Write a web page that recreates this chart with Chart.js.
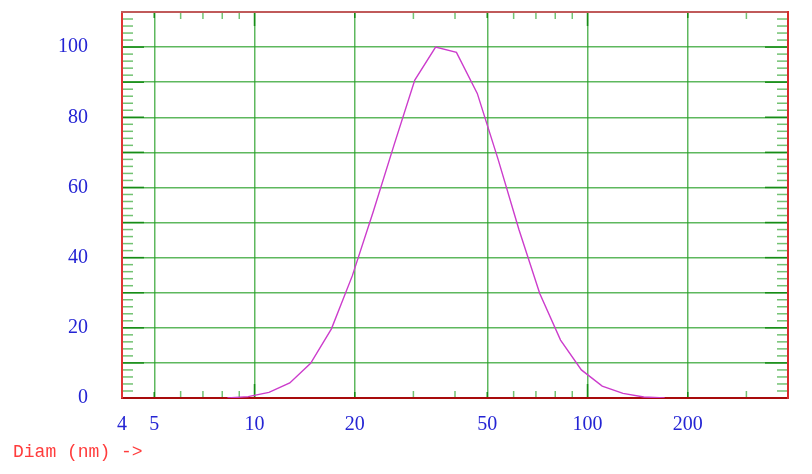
<!DOCTYPE html>
<html><head><meta charset="utf-8">
<script src="https://cdn.jsdelivr.net/npm/chart.js@4.4.1/dist/chart.umd.min.js"></script>
<style>html,body{margin:0;padding:0;background:#fff}</style>
</head><body>
<canvas id="c" width="812" height="474"></canvas>
<script>
// ---- data ----
const diameters = [8.29, 9.57, 11.05, 12.76, 14.74, 17.02, 19.66, 22.71, 26.22, 30.29, 34.98, 40.40, 46.66, 53.89, 62.23, 71.87, 82.99, 95.85, 110.7, 127.8, 147.6, 170.5];
const intensity = [0, 0.4, 1.6, 4.3, 9.9, 19.7, 34.8, 53, 72, 90.6, 100, 98.5, 86.8, 68, 48, 29.8, 16.5, 8.0, 3.4, 1.3, 0.3, 0];
const xTickValues = [4, 5, 10, 20, 50, 100, 200];
const xMinorTicks = [6, 7, 8, 9, 30, 40, 60, 70, 80, 90, 300];
const yGridValues = [0, 10, 20, 30, 40, 50, 60, 70, 80, 90, 100, 110];
const yLabelValues = [0, 20, 40, 60, 80, 100];
const xTitle = 'Diam (nm) ->';

const yMinorTicks = [];
for (let v = 2; v < 110; v += 2) if (v % 10 !== 0) yMinorTicks.push(v);

const GRID = 'rgba(40,160,40,0.75)';
const MINOR = '#72c272';
const MAJOR = '#168c16';
const LABEL = '#2424d4';

const innerTicks = {
  id: 'innerTicks',
  beforeDatasetsDraw(chart) {
    const { ctx, chartArea: a, scales: { x, y } } = chart;
    const seg = (x1, y1, x2, y2) => { ctx.beginPath(); ctx.moveTo(x1, y1); ctx.lineTo(x2, y2); ctx.stroke(); };
    ctx.save();
    ctx.lineWidth = 1.5;
    ctx.strokeStyle = MINOR;
    yMinorTicks.forEach(v => {
      const p = y.getPixelForValue(v);
      seg(a.left + 1, p, a.left + 11, p);
      seg(a.right - 11, p, a.right - 1, p);
    });
    xMinorTicks.forEach(v => {
      const p = x.getPixelForValue(v);
      seg(p, a.bottom - 1, p, a.bottom - 7);
      seg(p, a.top + 1, p, a.top + 7);
    });
    ctx.strokeStyle = MAJOR;
    yGridValues.forEach(v => {
      if (v === 0 || v === 110) return;
      const p = y.getPixelForValue(v);
      seg(a.left + 1, p, a.left + 22, p);
      seg(a.right - 23, p, a.right - 1, p);
    });
    xTickValues.forEach(v => {
      if (v === 4) return;
      const p = x.getPixelForValue(v);
      const len = Math.abs(Math.log10(v) % 1) < 1e-9 ? 14 : 6;
      seg(p, a.bottom - 1, p, a.bottom - len);
      seg(p, a.top + 1, p, a.top + len);
    });
    ctx.restore();
  }
};

new Chart(document.getElementById('c'), {
  type: 'line',
  data: {
    datasets: [{
      data: diameters.map((d, i) => ({ x: d, y: intensity[i] })),
      borderColor: '#cc3ccc',
      borderWidth: 1.4,
      pointRadius: 0,
      tension: 0,
      fill: false
    }]
  },
  plugins: [innerTicks],
  options: {
    responsive: false,
    animation: false,
    layout: { padding: { left: 13, right: 24, top: 12, bottom: 11 } },
    plugins: {
      legend: { display: false },
      tooltip: { enabled: false },
      title: {
        display: true, text: xTitle, position: 'bottom', align: 'start',
        color: '#ff3c3c', font: { family: 'Liberation Mono', size: 18, weight: 'normal' },
        padding: { top: 0, bottom: 0 }
      }
    },
    scales: {
      x: {
        type: 'logarithmic', position: 'bottom', min: 4, max: 400,
        afterBuildTicks: s => { s.ticks = xTickValues.map(v => ({ value: v })); },
        afterFit: s => { s.height = 474 - 11 - 21.6 - 398; s.paddingLeft = 0; s.paddingRight = 0; },
        ticks: {
          autoSkip: false, maxRotation: 0, padding: 15, color: LABEL,
          font: { family: 'Liberation Serif', size: 20 },
          callback: v => String(v)
        },
        grid: {
          drawTicks: false, lineWidth: 1.5,
          color: c => (c.tick && c.tick.value === 4) ? 'rgba(0,0,0,0)' : GRID
        },
        border: { display: true, color: '#a80c0c', width: 2 }
      },
      y: {
        type: 'linear', position: 'left', min: 0, max: 110,
        afterBuildTicks: s => { s.ticks = yGridValues.map(v => ({ value: v })); },
        afterFit: s => { s.width = 109; s.paddingTop = 0; s.paddingBottom = 0; },
        ticks: {
          autoSkip: false, padding: 34, color: LABEL,
          font: { family: 'Liberation Serif', size: 20 },
          callback: v => yLabelValues.includes(v) ? String(v) : ''
        },
        grid: {
          drawTicks: false, lineWidth: 1.5,
          color: c => (c.tick && (c.tick.value === 0 || c.tick.value === 110)) ? 'rgba(0,0,0,0)' : GRID
        },
        border: { display: true, color: '#e03434', width: 2 }
      },
      x2: {
        type: 'logarithmic', position: 'top', min: 4, max: 400,
        afterFit: s => { s.height = 0; s.paddingLeft = 0; s.paddingRight = 0; },
        ticks: { display: false },
        grid: { display: false, drawTicks: false },
        border: { display: true, color: '#c05a5a', width: 2 }
      },
      y2: {
        type: 'linear', position: 'right', min: 0, max: 110,
        afterFit: s => { s.width = 0; s.paddingTop = 0; s.paddingBottom = 0; },
        ticks: { display: false },
        grid: { display: false, drawTicks: false },
        border: { display: true, color: '#d82a2a', width: 2 }
      }
    }
  }
});
</script>
</body></html>
